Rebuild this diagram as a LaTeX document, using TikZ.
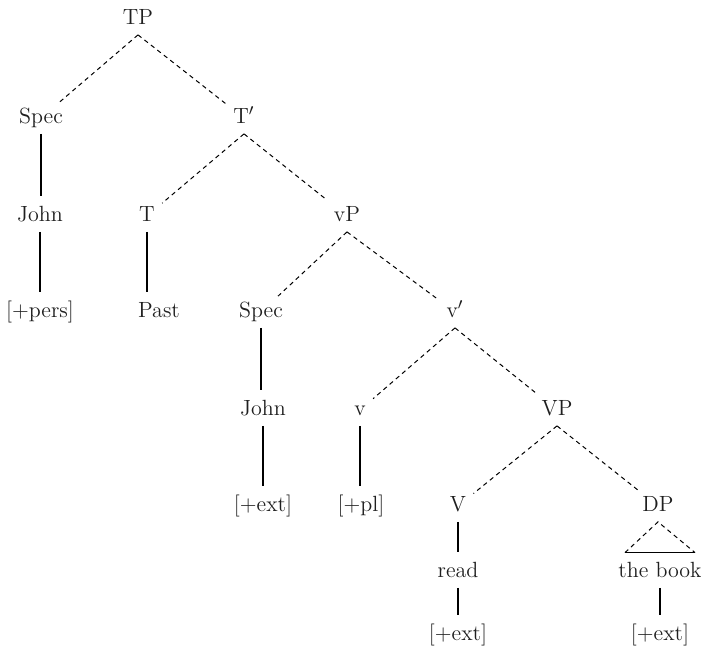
\documentclass[tikz,border=0pt]{standalone}
\begin{document}
\begin{tikzpicture}[x=0.5pt,y=-0.5pt,
  lbl/.style={font=\fontsize{11}{13}\selectfont, text=black!88,
    text height=7.5pt, text depth=2pt, inner xsep=3.5pt, inner ysep=3pt,
    anchor=base},
  dashedge/.style={draw, line width=0.5pt, dash pattern=on 2.2pt off 1.9pt},
  stem/.style={draw, line width=0.6pt, shorten >=2pt}]
\useasboundingbox (0,0) rectangle (705,646);

% labels, placed on their baselines
\node[lbl] (TP)    at (138,24.5)  {TP};
\node[lbl] (Spec1) at (41,123.5)  {Spec};
\node[lbl] (Tbar)  at (244,123.5) {T$'$};
\node[lbl] (John1) at (40,221.5)  {John};
\node[lbl] (T)     at (147,221.5) {T};
\node[lbl] (vP)    at (347,221.5) {vP};
\node[lbl] (pers)  at (40,317.5)  {[+pers]};
\node[lbl] (Past)  at (159,317.5) {Past};
\node[lbl] (Spec2) at (261,317.5) {Spec};
\node[lbl] (vbar)  at (455,317.5) {v$'$};
\node[lbl] (John2) at (263,415.5) {John};
\node[lbl] (v)     at (360,415.5) {v};
\node[lbl] (VP)    at (557,415.5) {VP};
\node[lbl] (ext1)  at (263,511.5) {[+ext]};
\node[lbl] (pl)    at (361,511.5) {[+pl]};
\node[lbl] (V)     at (458,511.5) {V};
\node[lbl] (DP)    at (658,511.5) {DP};
\node[lbl] (read)  at (458,577.5) {read};
\node[lbl] (book)  at (660,577.5) {the book};
\node[lbl] (ext2)  at (458,640)   {[+ext]};
\node[lbl] (ext3)  at (660,640)   {[+ext]};

% dashed branches
\foreach \p/\c in {TP/Spec1, TP/Tbar, Tbar/T, Tbar/vP, vP/Spec2, vP/vbar,
                   vbar/v, vbar/VP, VP/V, VP/DP}
  \draw[dashedge] (\p.south) -- (\c);

% solid stems, dropped straight down from the upper label
\foreach \p/\c in {Spec1/John1, John1/pers, T/Past, Spec2/John2, John2/ext1,
                   v/pl, V/read, read/ext2, book/ext3}
  \draw[stem] (\p.south) -- (\p.south |- \c.north);

% triangle over "the book"
\coordinate (tl) at ([xshift=-17.5pt,yshift=1.75pt]book.north);
\coordinate (tr) at ([xshift=17.5pt,yshift=1.75pt]book.north);
\draw[dashedge] (tl) -- (DP.south) -- (tr);
\draw[line width=0.6pt] (tl) -- (tr);
\end{tikzpicture}
\end{document}
